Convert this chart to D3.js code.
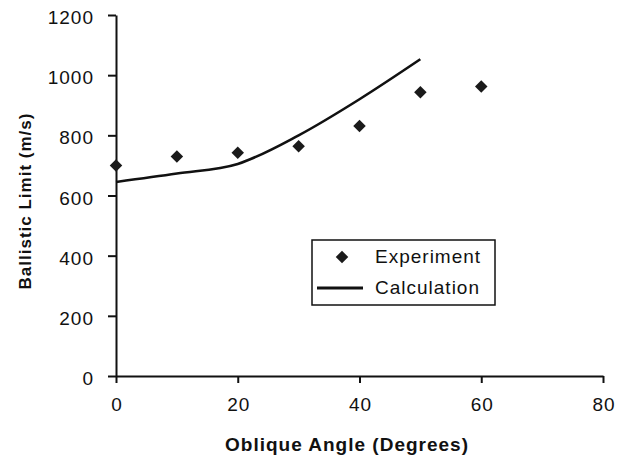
<!DOCTYPE html>
<html>
<head>
<meta charset="utf-8">
<script src="https://cdn.jsdelivr.net/npm/d3@7"></script>
<style>
  html, body { margin: 0; padding: 0; background: #fff; }
  svg { display: block; }
  text { font-family: "Liberation Sans", Arial, sans-serif; fill: #111; }
</style>
</head>
<body>
<div id="chart"></div>
<script>
const expAngles = [0, 10, 20, 30, 40, 50, 60];
const experiment = [700, 730, 742, 764, 831, 943, 962];
const calcAngles = [0, 10, 20, 30, 40, 50];
const calculation = [645, 673, 705, 800, 920, 1053];
const xTicks = [0, 20, 40, 60, 80];
const yTicks = [0, 200, 400, 600, 800, 1000, 1200];
const xTitle = "Oblique Angle (Degrees)";
const yTitle = "Ballistic Limit (m/s)";
const legendLabels = ["Experiment", "Calculation"];

const W = 620, H = 457;
const svg = d3.select("#chart").append("svg").attr("width", W).attr("height", H);

const x = d3.scaleLinear().domain([0, 80]).range([116, 603]);
const y = d3.scaleLinear().domain([0, 1200]).range([376, 15]);

// Axes
const xAxis = svg.append("g").attr("transform", `translate(0,${y(0)})`)
  .call(d3.axisBottom(x).tickValues(xTicks).tickFormat(d3.format("d")).tickSize(7).tickPadding(15).tickSizeOuter(0));
const yAxis = svg.append("g").attr("transform", `translate(${x(0)},0)`)
  .call(d3.axisLeft(y).tickValues(yTicks).tickFormat(d3.format("d")).tickSize(8).tickPadding(14).tickSizeOuter(0));

[xAxis, yAxis].forEach(a => {
  a.select(".domain").attr("stroke", "#111").attr("stroke-width", 2);
  a.selectAll(".tick line").attr("stroke", "#111").attr("stroke-width", 2);
  a.selectAll(".tick text").attr("font-size", 19).attr("letter-spacing", "1px")
    .attr("font-family", "Liberation Sans, Arial, sans-serif").attr("fill", "#111");
});
xAxis.selectAll(".tick text").attr("dy", "0.71em").attr("dx", "0.5px");
yAxis.selectAll(".tick text").attr("dy", "0.45em");

// Titles
svg.append("text").attr("x", 347).attr("y", 451).attr("text-anchor", "middle")
  .attr("font-size", 19).attr("font-weight", "bold").attr("letter-spacing", "1px")
  .text(xTitle);
svg.append("text").attr("transform", `translate(31,201) rotate(-90)`).attr("text-anchor", "middle")
  .attr("font-size", 17).attr("font-weight", "bold").attr("letter-spacing", "1px")
  .text(yTitle);

// Calculation line
const calcData = calcAngles.map((a, i) => [a, calculation[i]]);
svg.append("path").datum(calcData)
  .attr("fill", "none").attr("stroke", "#111").attr("stroke-width", 2.6)
  .attr("d", d3.line().x(d => x(d[0])).y(d => y(d[1])).curve(d3.curveMonotoneX));

// Experiment markers
const diamond = d3.symbol().type(d3.symbolSquare).size(78);
svg.append("g").selectAll("path").data(expAngles.map((a, i) => [a, experiment[i]]))
  .join("path")
  .attr("d", diamond)
  .attr("fill", "#1a1a1a")
  .attr("transform", d => `translate(${x(d[0])},${y(d[1])}) rotate(45)`);

// Legend
const lg = svg.append("g");
lg.append("rect").attr("x", 312).attr("y", 240).attr("width", 183).attr("height", 65)
  .attr("fill", "#fff").attr("stroke", "#111").attr("stroke-width", 1.5);
lg.append("path").attr("d", diamond).attr("fill", "#1a1a1a")
  .attr("transform", "translate(342,257) rotate(45)");
lg.append("line").attr("x1", 317).attr("x2", 363).attr("y1", 288).attr("y2", 288)
  .attr("stroke", "#111").attr("stroke-width", 3);
lg.append("text").attr("x", 375).attr("y", 263).attr("font-size", 19).attr("letter-spacing", "1px")
  .text(legendLabels[0]);
lg.append("text").attr("x", 375).attr("y", 294).attr("font-size", 19).attr("letter-spacing", "1px")
  .text(legendLabels[1]);
</script>
</body>
</html>
